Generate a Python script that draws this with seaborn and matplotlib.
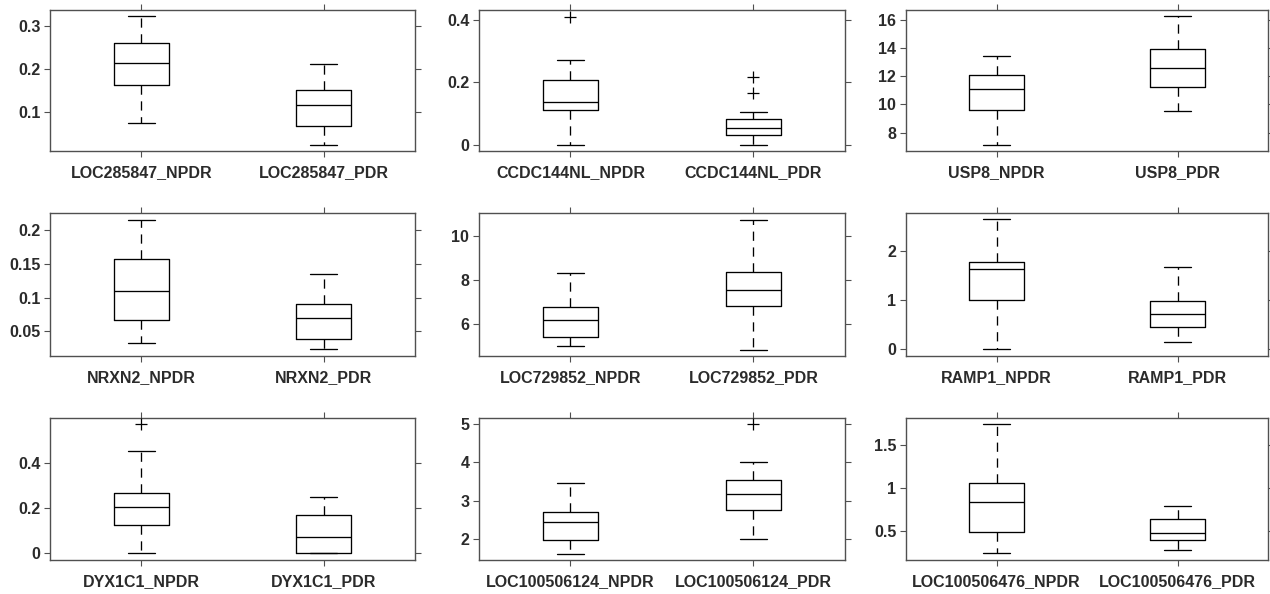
import matplotlib
matplotlib.use("Agg")
import matplotlib.pyplot as plt
from matplotlib.ticker import FuncFormatter
import pandas as pd
import seaborn as sns

genes = [
    "LOC285847", "CCDC144NL", "USP8",
    "NRXN2", "LOC729852", "RAMP1",
    "DYX1C1", "LOC100506124", "LOC100506476",
]

# five-number summaries:
# lower whisker, q1, median, q3, upper whisker
npdr_stats = [
    [0.075, 0.163, 0.214, 0.259, 0.322],
    [0.0, 0.110, 0.138, 0.208, 0.270],
    [7.14, 9.62, 11.10, 12.10, 13.43],
    [0.033, 0.066, 0.110, 0.157, 0.216],
    [5.05, 5.44, 6.21, 6.77, 8.34],
    [0.0, 0.997, 1.634, 1.783, 2.658],
    [0.0, 0.126, 0.207, 0.268, 0.453],
    [1.62, 1.98, 2.456, 2.70, 3.474],
    [0.238, 0.484, 0.836, 1.055, 1.75],
]
pdr_stats = [
    [0.024, 0.068, 0.116, 0.152, 0.212],
    [0.0, 0.031, 0.052, 0.081, 0.104],
    [9.55, 11.24, 12.60, 13.91, 16.31],
    [0.023, 0.039, 0.070, 0.090, 0.135],
    [4.87, 6.81, 7.53, 8.37, 10.71],
    [0.142, 0.454, 0.725, 0.976, 1.681],
    [0.0, 0.0, 0.074, 0.172, 0.250],
    [2.0, 2.763, 3.175, 3.535, 4.0],
    [0.273, 0.391, 0.477, 0.637, 0.789],
]
npdr_outliers = [[], [0.41], [], [], [], [], [0.572], [], []]
pdr_outliers = [[], [0.2175, 0.1645], [], [], [], [], [], [5.0], []]

y_limits = [
    (0.0097, 0.336), (-0.0202, 0.4308), (6.69, 16.71),
    (0.0132, 0.2258), (4.58, 11.02), (-0.142, 2.786),
    (-0.0296, 0.60), (1.456, 5.158), (0.160, 1.820),
]
y_ticks = [
    [0.1, 0.2, 0.3], [0, 0.2, 0.4], [8, 10, 12, 14, 16],
    [0.05, 0.1, 0.15, 0.2], [6, 8, 10], [0, 1, 2],
    [0, 0.2, 0.4], [2, 3, 4, 5], [0.5, 1, 1.5],
]

sns.set_theme(style="ticks")
plt.rcParams["font.family"] = ["Liberation Sans", "DejaVu Sans"]
plt.rcParams["font.weight"] = "bold"

text_color = "#2b2b2b"
frame_color = "#505050"

# panel frames in pixels of the 1270x594 canvas
W, H = 1270, 594
col_left = [50, 479, 906]
col_width = [365, 366, 362]
row_top = [10, 213, 418]
row_bottom = [151, 356, 560]

fig = plt.figure(figsize=(12.7, 5.94), dpi=100)

for i, gene in enumerate(genes):
    r, c = divmod(i, 3)
    ax = fig.add_axes([
        col_left[c] / W,
        1 - row_bottom[r] / H,
        col_width[c] / W,
        (row_bottom[r] - row_top[r]) / H,
    ])
    labels = [f"{gene}_NPDR", f"{gene}_PDR"]

    box_df = pd.DataFrame({
        "group": [labels[0]] * len(npdr_stats[i]) + [labels[1]] * len(pdr_stats[i]),
        "value": npdr_stats[i] + pdr_stats[i],
    })
    sns.boxplot(
        data=box_df, x="group", y="value", order=labels,
        whis=(0, 100), width=0.3, fill=False, color="black",
        linewidth=0.95, whiskerprops={"linestyle": (0, (7, 5))},
        ax=ax,
    )

    out_vals = npdr_outliers[i] + pdr_outliers[i]
    if out_vals:
        out_df = pd.DataFrame({
            "group": [labels[0]] * len(npdr_outliers[i]) + [labels[1]] * len(pdr_outliers[i]),
            "value": out_vals,
        })
        sns.stripplot(
            data=out_df, x="group", y="value", order=labels,
            jitter=False, marker="+", color="black", size=8,
            linewidth=0.9, ax=ax,
        )

    ax.set_xlim(-0.5, 1.5)
    ax.set_ylim(*y_limits[i])
    ax.set_yticks(y_ticks[i])
    ax.yaxis.set_major_formatter(FuncFormatter(lambda v, p: f"{v:g}"))
    ax.set_xlabel("")
    ax.set_ylabel("")
    ax.tick_params(axis="both", direction="out", length=4, width=0.8,
                   color=frame_color, labelcolor=text_color, labelsize=11.5,
                   top=True, right=True)
    ax.tick_params(axis="x", pad=6)
    ax.tick_params(axis="y", pad=3)
    for lab in ax.get_xticklabels() + ax.get_yticklabels():
        lab.set_fontweight("bold")
    for spine in ax.spines.values():
        spine.set_visible(True)
        spine.set_color(frame_color)
        spine.set_linewidth(1.0)

fig.savefig("out.png", dpi=100)
